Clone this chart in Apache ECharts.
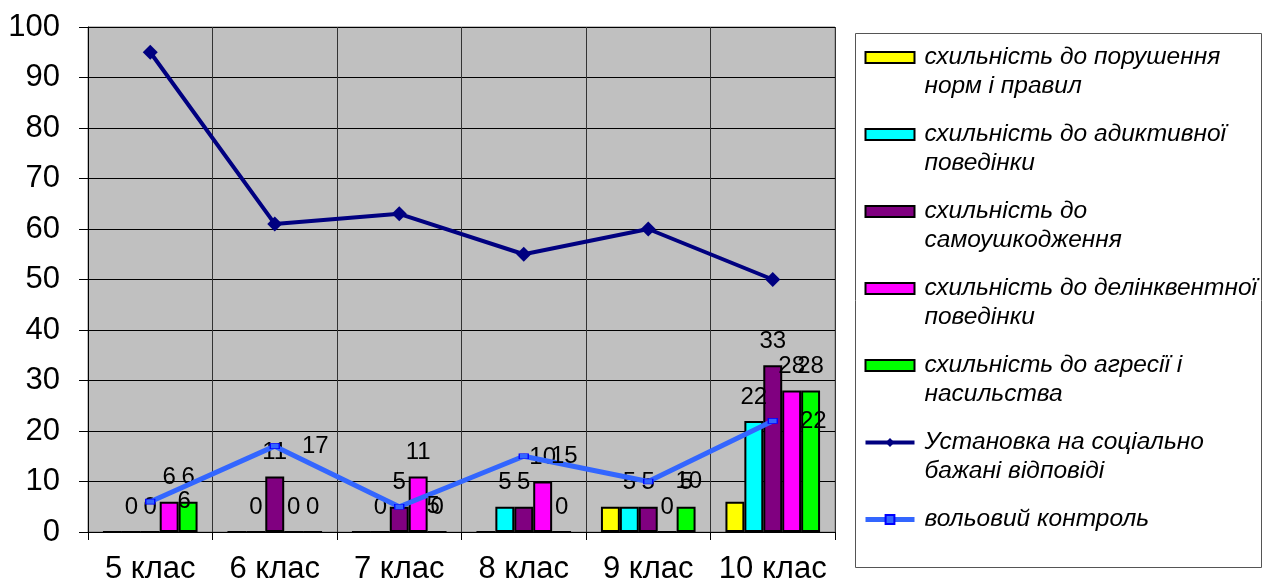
<!DOCTYPE html>
<html>
<head>
<meta charset="utf-8">
<script src="https://cdn.jsdelivr.net/npm/echarts@6/dist/echarts.min.js"></script>
<style>
  html, body { margin: 0; padding: 0; background: #fff; }
  #chart { width: 1268px; height: 585px; }
</style>
</head>
<body>
<div id="chart"></div>
<script>
// categories
const categories = ['5 клас', '6 клас', '7 клас', '8 клас', '9 клас', '10 клас'];

// bar series
const normsData = [0, 0, 0, 0, 5, 6];
const addictiveData = [0, 0, 0, 5, 5, 22];
const selfHarmData = [0, 11, 5, 5, 5, 33];
const delinquentData = [6, 0, 11, 10, 0, 28];
const aggressionData = [6, 0, 0, 0, 5, 28];

// line series
const socialData = [95, 61, 63, 55, 60, 50];
const willData = [6, 17, 5, 15, 10, 22];

const names = [
    'схильність до порушення норм і правил',
    'схильність до адиктивної поведінки',
    'схильність до самоушкодження',
    'схильність до делінквентної поведінки',
    'схильність до агресії і насильства',
    'Установка на соціально бажані відповіді',
    'вольовий контроль'
];
// how the legend wraps each name (leading blank line keeps first line next to the icon)
const legendText = [
    ' \nсхильність до порушення\nнорм і правил',
    ' \nсхильність до адиктивної\nповедінки',
    ' \nсхильність до\nсамоушкодження',
    ' \nсхильність до делінквентної\nповедінки',
    ' \nсхильність до агресії і\nнасильства',
    ' \nУстановка на соціально\nбажані відповіді',
    ' \nвольовий контроль\n '
];

const font = "'Liberation Sans', Arial, sans-serif";
const barColors = ['#FFFF00', '#00FFFF', '#800080', '#FF00FF', '#00FF00'];
const barData = [normsData, addictiveData, selfHarmData, delinquentData, aggressionData];

const chart = echarts.init(document.getElementById('chart'));

const barSeries = barData.map((d, i) => ({
    name: names[i],
    type: 'bar',
    data: d,
    barGap: '0%',
    barCategoryGap: '24%',
    itemStyle: { color: barColors[i], borderColor: '#000', borderWidth: 2 },
    label: {
        show: i !== 0, // yellow bars have no labels in the original
        position: 'top',
        distance: 12,
        color: '#000',
        fontSize: 24,
        fontFamily: font
    }
}));

chart.setOption({
    animation: false,
    backgroundColor: '#fff',
    grid: {
        left: 88, right: 433, top: 27, bottom: 52,
        show: true,
        backgroundColor: '#C0C0C0',
        borderColor: '#808080',
        borderWidth: 1
    },
    graphic: [{
        type: 'rect',
        shape: { x: 855.5, y: 33.5, width: 406, height: 534 },
        style: { fill: 'none', stroke: '#555', lineWidth: 1 },
        z: 1
    }],
    legend: {
        orient: 'vertical',
        left: 863,
        top: 14,
        padding: 0,
        itemGap: -10,
        itemWidth: 49,
        itemHeight: 11,
        data: names.map((n, i) => {
            if (i < 5) return { name: n, icon: 'rect' };
            return { name: n, lineStyle: { width: i === 5 ? 4 : 5 } };
        }),
        formatter: (n) => legendText[names.indexOf(n)],
        textStyle: {
            fontFamily: font,
            fontStyle: 'italic',
            fontSize: 24.5,
            lineHeight: 29,
            color: '#000',
            padding: [0, 0, 0, 5]
        }
    },
    xAxis: {
        type: 'category',
        data: categories,
        axisLine: { lineStyle: { color: '#000', width: 1 } },
        axisTick: { show: true, interval: 0, length: 8, lineStyle: { color: '#000' } },
        splitLine: { show: true, interval: 0, lineStyle: { color: '#333', width: 1 } },
        axisLabel: { interval: 0, color: '#000', fontSize: 31, fontFamily: font, margin: 22 }
    },
    yAxis: {
        type: 'value',
        min: 0,
        max: 100,
        interval: 10,
        axisLine: { show: true, lineStyle: { color: '#000', width: 1 } },
        axisTick: { show: true, length: 9, lineStyle: { color: '#000' } },
        splitLine: { show: true, lineStyle: { color: '#000', width: 1 } },
        axisLabel: { color: '#000', fontSize: 31, fontFamily: font, margin: 28 }
    },
    series: barSeries.concat([
        {
            name: names[5],
            type: 'line',
            data: socialData,
            symbol: 'diamond',
            symbolSize: 15,
            color: '#000080',
            lineStyle: { color: '#000080', width: 4 },
            itemStyle: { color: '#000080' },
            z: 5
        },
        {
            name: names[6],
            type: 'line',
            data: willData,
            symbol: 'rect',
            symbolSize: [9, 5],
            color: '#3366FF',
            lineStyle: { color: '#3366FF', width: 5 },
            itemStyle: { color: '#3366FF', borderColor: '#0000FF', borderWidth: 1 },
            label: {
                show: true,
                position: 'right',
                distance: 22,
                color: '#000',
                fontSize: 24,
                fontFamily: font
            },
            z: 6
        }
    ])
});
</script>
</body>
</html>
